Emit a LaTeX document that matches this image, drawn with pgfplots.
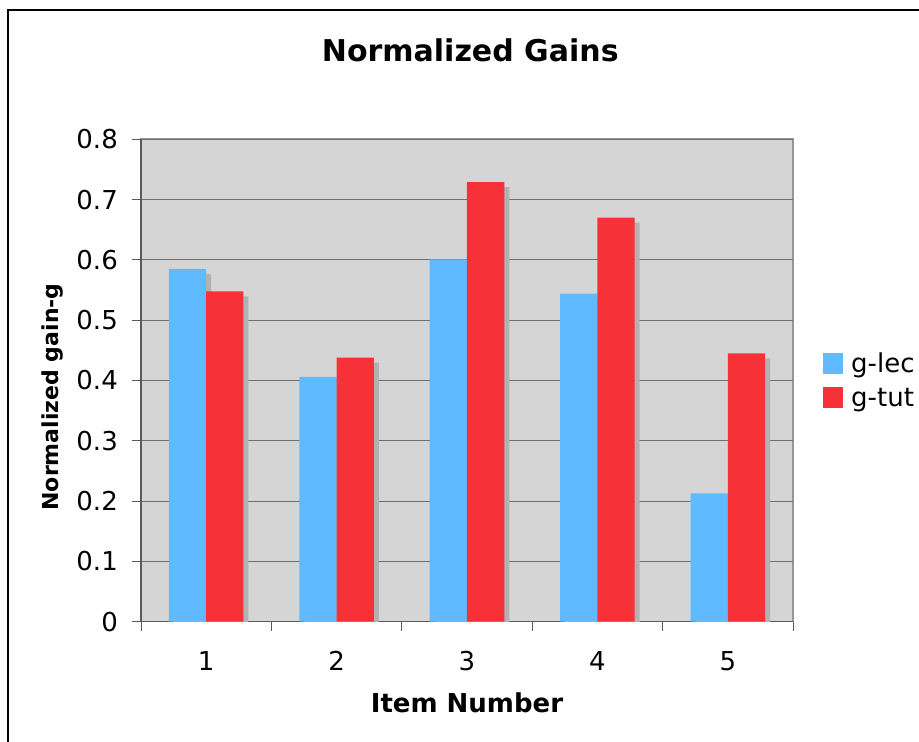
\documentclass[border=0pt]{standalone}
\usepackage{fontspec}
\setmainfont{DejaVu Sans}
\usepackage{pgfplots}
\usepackage{pgfplotstable}
\pgfplotsset{compat=1.18}
\definecolor{barblue}{RGB}{96,186,255}
\definecolor{barred}{RGB}{247,49,56}
\definecolor{plotbg}{RGB}{213,213,213}
\definecolor{shadowc}{RGB}{178,178,178}
\definecolor{gridc}{RGB}{110,110,110}
\definecolor{axisc}{RGB}{90,90,90}
\definecolor{boxc}{RGB}{150,150,150}

\pgfplotstableread{
item lec tut
1 0.585 0.548
2 0.406 0.438
3 0.601 0.729
4 0.544 0.670
5 0.213 0.445
}\gaintable

\begin{document}
\begin{tikzpicture}[x=1pt,y=1pt]
\useasboundingbox (0,0) rectangle (919,742);
\draw[black, line width=2pt] (8,-20) -- (8,732) -- (940,732);
\begin{axis}[
  at={(141pt,120.3pt)}, anchor=south west,
  scale only axis, width=652pt, height=482.4pt,
  xmin=0.5, xmax=5.5, ymin=0, ymax=0.8,
  ybar, bar width=0.286,
  axis x line*=bottom, axis y line*=left,
  axis line style={-, line width=1.6pt, color=axisc},
  axis background/.style={fill=plotbg, draw=boxc, line width=1.6pt},
  xtick={1,2,3,4,5},
  minor xtick={0.5,1.5,2.5,3.5,4.5,5.5},
  ytick={0,0.1,0.2,0.3,0.4,0.5,0.6,0.7,0.8},
  yticklabels={0,0.1,0.2,0.3,0.4,0.5,0.6,0.7,0.8},
  tick align=outside,
  major tick length=9pt, minor tick length=9pt,
  major x tick style={draw=none},
  minor x tick style={draw=axisc, line width=0.8pt},
  ytick style={draw=axisc, line width=0.8pt},
  ymajorgrids,
  major grid style={gridc, line width=1pt},
  /pgf/number format/assume math mode=true,
  ticklabel style={font=\fontsize{26}{26}\selectfont},
  yticklabel style={anchor=east, inner sep=0pt, xshift=-14pt},
  xticklabel style={anchor=base, inner sep=0pt, yshift=-40pt},
  title={Normalized Gains},
  title style={at={(axis description cs:0.505,1.148)}, anchor=base, font=\bfseries\fontsize{30}{30}\selectfont},
  xlabel={Item Number},
  xlabel style={at={(axis description cs:0.5,-0.189)}, anchor=base, font=\bfseries\fontsize{26}{26}\selectfont},
  ylabel={Normalized gain-g},
  ylabel style={at={(axis description cs:-0.135,0.466)}, anchor=center, font=\bfseries\fontsize{22}{22}\selectfont},
  legend style={at={(axis description cs:1,0.5)}, anchor=west, xshift=30pt,
    draw=none, fill=none, inner sep=0pt, row sep=10pt,
    font=\fontsize{26}{26}\selectfont,
    /tikz/every odd column/.style={column sep=6pt}},
  legend cell align=left,
  legend image code/.code={\fill[#1] (0pt,-10pt) rectangle (20pt,11pt);},
]
\addplot[forget plot, fill=shadowc, draw=none, bar shift=-0.143, xshift=5pt, yshift=-5pt] table[x=item,y=lec]{\gaintable};
\addplot[forget plot, fill=shadowc, draw=none, bar shift=0.143, xshift=5pt, yshift=-5pt] table[x=item,y=tut]{\gaintable};
\addplot[fill=barblue, draw=none, bar shift=-0.143] table[x=item,y=lec]{\gaintable};
\addplot[fill=barred, draw=none, bar shift=0.143] table[x=item,y=tut]{\gaintable};
\legend{g-lec,g-tut}
\end{axis}
\end{tikzpicture}
\end{document}
